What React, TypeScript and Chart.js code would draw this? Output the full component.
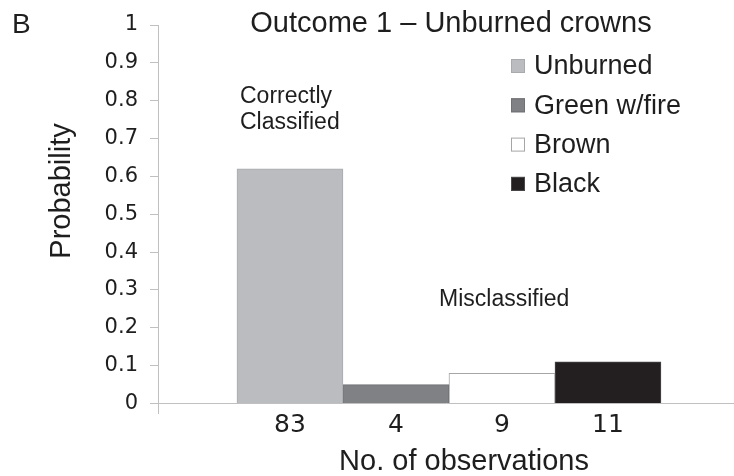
import React, { useEffect, useRef } from "react";
import { Chart, registerables } from "chart.js";

Chart.register(...registerables);

const categories = ["Unburned", "Green w/fire", "Brown", "Black"];
const probabilities = [0.62, 0.05, 0.08, 0.11];
const observationLabels = ["83", "4", "9", "11"];
const yTickValues = [0, 0.1, 0.2, 0.3, 0.4, 0.5, 0.6, 0.7, 0.8, 0.9, 1];
const fillColors = ["#bbbcbf", "#808184", "#ffffff", "#231f20"];
const edgeColors = ["#a9aaad", "#707174", "#a6a6a6", "#4a4a4a"];

const titleText = "Outcome 1 \u2013 Unburned crowns";
const panelLetter = "B";
const yTitle = "Probability";
const xTitle = "No. of observations";
const noteCorrect = ["Correctly", "Classified"];
const noteMis = "Misclassified";

const TEXT = "#1e1e1e";
const SANS = "'Liberation Sans', Arial, sans-serif";
const TICKFONT = "'DejaVu Sans', Verdana, sans-serif";
const AXIS = "#c0c0c0";

const overlayPlugin = {
  id: "overlayText",
  afterDraw(chart: any) {
    const ctx = chart.ctx as CanvasRenderingContext2D;
    ctx.save();
    ctx.fillStyle = TEXT;
    ctx.textBaseline = "alphabetic";

    ctx.font = `28px ${SANS}`;
    ctx.textAlign = "left";
    ctx.fillText(panelLetter, 12, 33);

    ctx.font = `29px ${SANS}`;
    ctx.textAlign = "center";
    ctx.fillText(titleText, 451, 32);

    ctx.font = `23px ${SANS}`;
    ctx.textAlign = "left";
    ctx.fillText(noteCorrect[0], 240, 103);
    ctx.fillText(noteCorrect[1], 240, 129);
    ctx.fillText(noteMis, 439, 306);

    ctx.font = `29px ${SANS}`;
    ctx.textAlign = "center";
    ctx.fillText(xTitle, 464, 470);

    ctx.save();
    ctx.translate(70, 191);
    ctx.rotate(-Math.PI / 2);
    ctx.font = `29px ${SANS}`;
    ctx.textAlign = "center";
    ctx.fillText(yTitle, 0, 0);
    ctx.restore();

    const ds = chart.data.datasets;
    ctx.font = `27px ${SANS}`;
    ctx.textAlign = "left";
    ctx.textBaseline = "middle";
    ds.forEach((d: any, i: number) => {
      const cy = 66 + i * 39.3;
      ctx.fillStyle = d.backgroundColor;
      ctx.fillRect(511, cy - 7, 14, 14);
      ctx.strokeStyle = d.borderColor;
      ctx.lineWidth = 1;
      ctx.strokeRect(511.5, cy - 6.5, 13, 13);
      ctx.fillStyle = TEXT;
      ctx.fillText(d.label, 534, cy + 1);
    });
    ctx.restore();
  },
};

export default function App() {
  const canvasRef = useRef<HTMLCanvasElement | null>(null);

  useEffect(() => {
    if (!canvasRef.current) return;
    const chart = new Chart(canvasRef.current, {
      type: "bar",
      data: {
        datasets: categories.map((label, i) => ({
          label,
          data: [{ x: i + 1, y: probabilities[i] }],
          backgroundColor: fillColors[i],
          borderColor: edgeColors[i],
          borderWidth: 1,
          grouped: false,
          barPercentage: 1,
          categoryPercentage: 1,
        })) as any,
      },
      options: {
        responsive: false,
        animation: false,
        events: [],
        layout: { padding: { left: 0, right: 0, top: 25, bottom: 0 } },
        plugins: {
          legend: { display: false },
          title: { display: false },
          tooltip: { enabled: false },
        },
        scales: {
          x: {
            type: "linear",
            offset: false,
            min: -0.245,
            max: 5.189,
            grid: { display: false, drawTicks: false, offset: false },
            border: { display: false },
            afterBuildTicks: (scale: any) => {
              scale.ticks = observationLabels.map((_, i) => ({ value: i + 1 }));
            },
            afterFit: (scale: any) => {
              scale.height = 63;
            },
            ticks: {
              padding: -3,
              color: TEXT,
              font: { family: TICKFONT, size: 25 },
              maxRotation: 0,
              autoSkip: false,
              callback: (value: any) => observationLabels[Math.round(value) - 1] ?? "",
            },
          },
          y: {
            type: "linear",
            min: -0.025,
            max: 1,
            afterBuildTicks: (scale: any) => {
              scale.ticks = yTickValues.map((v) => ({ value: v }));
            },
            afterFit: (scale: any) => {
              scale.width = 158;
            },
            border: { display: true, color: AXIS, width: 1 },
            grid: {
              drawOnChartArea: true,
              drawTicks: true,
              tickLength: 8,
              tickColor: AXIS,
              color: (c: any) => (c.tick && c.tick.value === 0 ? AXIS : "rgba(0,0,0,0)"),
            },
            ticks: {
              padding: 12,
              color: TEXT,
              font: { family: TICKFONT, size: 21 },
              autoSkip: false,
              callback: (value: any) => String(Math.round(Number(value) * 10) / 10),
            },
          },
        },
      },
      plugins: [overlayPlugin],
    } as any);
    return () => chart.destroy();
  }, []);

  return (
    <div style={{ position: "fixed", left: 0, top: 0, width: 734, height: 476, background: "#fff" }}>
      <canvas ref={canvasRef} width={734} height={476} style={{ display: "block" }} />
    </div>
  );
}
